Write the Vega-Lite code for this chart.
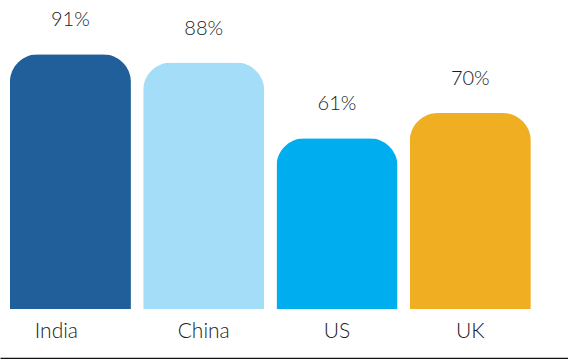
{
  "$schema": "https://vega.github.io/schema/vega-lite/v6.json",
  "width": 568,
  "height": 280,
  "autosize": {"type": "none"},
  "padding": {"left": 0, "top": 29, "right": 0, "bottom": 50},
  "background": "white",
  "config": {"view": {"stroke": null}, "font": "Lato"},
  "data": {
    "values": [
      {"country": "India", "value": 0.91},
      {"country": "China", "value": 0.88},
      {"country": "US", "value": 0.61},
      {"country": "UK", "value": 0.70}
    ]
  },
  "encoding": {
    "x": {
      "field": "country",
      "type": "nominal",
      "sort": null,
      "scale": {"paddingInner": 0.092, "paddingOuter": 0.1765, "align": 0.21},
      "axis": {
        "title": null,
        "labelAngle": 0,
        "ticks": false,
        "offset": 49,
        "domainColor": "#111111",
        "domainWidth": 1.5,
        "labelPadding": -27,
        "labelBaseline": "middle",
        "labelFontSize": 21,
        "labelFontWeight": 300,
        "labelColor": "#1a1a1a",
        "labelFont": "Lato",
        "labelOffset": {"condition": {"test": "datum.value === 'India'", "value": -14}, "value": 0}
      }
    },
    "y": {
      "field": "value",
      "type": "quantitative",
      "scale": {"domain": [0, 1]},
      "axis": null
    }
  },
  "layer": [
    {
      "mark": {"type": "bar", "cornerRadiusTopLeft": 28, "cornerRadiusTopRight": 28},
      "encoding": {
        "color": {
          "field": "country",
          "type": "nominal",
          "scale": {
            "domain": ["India", "China", "US", "UK"],
            "range": ["#215f9a", "#a3ddf7", "#00aeef", "#f0ae22"]
          },
          "legend": null
        }
      }
    },
    {
      "mark": {"type": "text", "dy": -34, "baseline": "middle", "fontSize": 20, "fontWeight": 300, "color": "#1a1a1a", "font": "Lato"},
      "encoding": {
        "text": {"field": "value", "type": "quantitative", "format": ".0%"}
      }
    }
  ]
}
